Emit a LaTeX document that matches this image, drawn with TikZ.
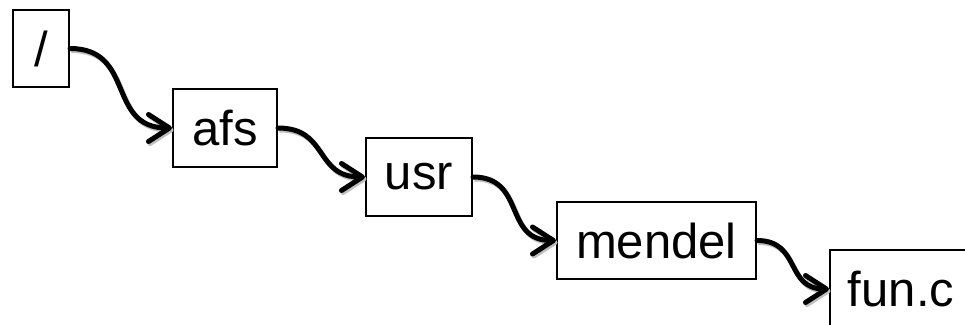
\documentclass[tikz,border=0pt]{standalone}
\usepackage{fontspec}
\setmainfont{Liberation Sans}
\usetikzlibrary{arrows.meta}
\begin{document}
\begin{tikzpicture}[x=1pt,y=-1pt,
  box/.style={draw=black, line width=2pt, fill=white, inner sep=0pt,
    font=\fontsize{49}{52}\selectfont},
  link/.style={line width=5pt, line cap=round, line join=round,
    -{Straight Barb[length=21pt,width=27pt,line cap=round,line join=round]},
    preaction={draw=black!25, line width=5pt, transform canvas={shift={(1.5pt,-2pt)}}},
    out=0, in=180, looseness=1.3}]
\clip (0,0) rectangle (965,324);
\fill[white] (0,0) rectangle (965,324);
\node[box, minimum width=56pt, minimum height=77pt] (root) at (41,48.5) {/};
\node[box, minimum width=104pt, minimum height=78pt] (afs) at (225,128) {afs};
\node[box, minimum width=106pt, minimum height=78pt] (usr) at (419,177) {usr};
\node[box, minimum width=199pt, minimum height=77pt] (mendel) at (656.5,240.5) {mendel};
\node[box, minimum width=142pt, minimum height=78pt] (fun) at (901,289) {fun.c};
\draw[link] (root.east) to (afs.west);
\draw[link] (afs.east) to (usr.west);
\draw[link] (usr.east) to (mendel.west);
\draw[link] (mendel.east) to (fun.west);
\end{tikzpicture}
\end{document}
